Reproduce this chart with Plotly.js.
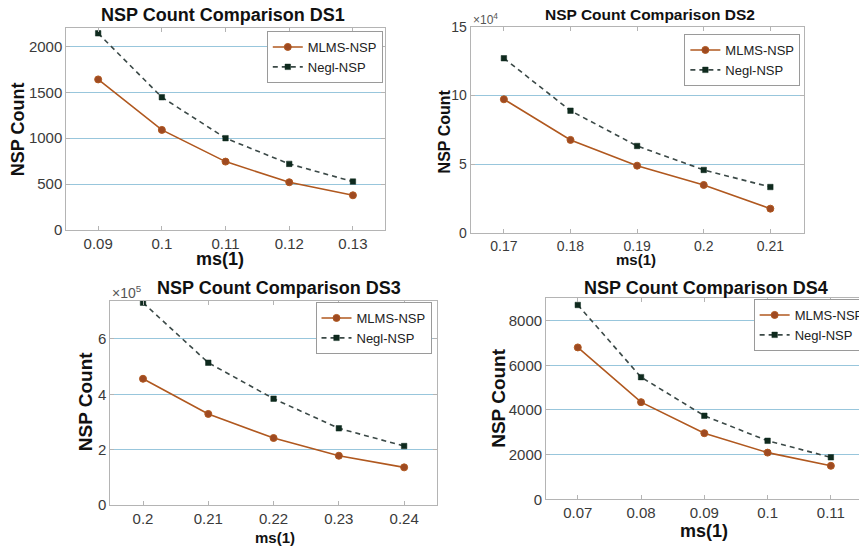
<!DOCTYPE html>
<html>
<head>
<meta charset="utf-8">
<script src="https://cdn.plot.ly/plotly-3.0.1.min.js"></script>
<style>
html,body{margin:0;padding:0;overflow:hidden;background:#fff;}
#chart{width:870px;height:548px;}
</style>
</head>
<body>
<div id="chart"></div>
<script>
// ---- data ----
const seriesNames = ["MLMS-NSP", "Negl-NSP"];
const titles = ["NSP Count Comparison DS1", "NSP Count Comparison DS2", "NSP Count Comparison DS3", "NSP Count Comparison DS4"];
const xLabel = "ms(1)";
const yLabel = "NSP Count";

const ds1X = [0.09, 0.10, 0.11, 0.12, 0.13];
const ds1XText = ["0.09", "0.1", "0.11", "0.12", "0.13"];
const ds1Mlms = [1640, 1090, 745, 520, 378];
const ds1Negl = [2142, 1446, 1000, 720, 527];
const ds1YTicks = [0, 500, 1000, 1500, 2000];
const ds1YText = ["0", "500", "1000", "1500", "2000"];

const ds2X = [0.17, 0.18, 0.19, 0.20, 0.21];
const ds2XText = ["0.17", "0.18", "0.19", "0.2", "0.21"];
const ds2Mlms = [97300, 67800, 49100, 35100, 17900];
const ds2Negl = [127100, 89000, 63400, 46000, 33600];
const ds2YTicks = [0, 50000, 100000, 150000];
const ds2YText = ["0", "5", "10", "15"];

const ds3X = [0.20, 0.21, 0.22, 0.23, 0.24];
const ds3XText = ["0.2", "0.21", "0.22", "0.23", "0.24"];
const ds3Mlms = [456000, 329000, 242000, 178000, 136000];
const ds3Negl = [731000, 514000, 384000, 277000, 213000];
const ds3YTicks = [0, 200000, 400000, 600000];
const ds3YText = ["0", "2", "4", "6"];

const ds4X = [0.07, 0.08, 0.09, 0.10, 0.11];
const ds4XText = ["0.07", "0.08", "0.09", "0.1", "0.11"];
const ds4Mlms = [6800, 4350, 2960, 2090, 1500];
const ds4Negl = [8700, 5470, 3740, 2620, 1880];
const ds4YTicks = [0, 2000, 4000, 6000, 8000];
const ds4YText = ["0", "2000", "4000", "6000", "8000"];

// ---- layout helpers ----
const W = 870, H = 548;
const px = x => x / W;
const py = y => 1 - y / H;
const FONT = "Liberation Sans, Arial, Helvetica, sans-serif";
const brown = "#b0581f", brownM = "#9e4a22";
const dark = "#3b4947", darkM = "#0f2a1e";
const gridC = "#98c6dc", axC = "#b4b4b4", tickC = "#3a3a3a";

const panels = [
  {x: ds1X, xt: ds1XText, m: ds1Mlms, n: ds1Negl, yt: ds1YTicks, ytt: ds1YText,
   xr: [0.085, 0.135], yr: [0, 2200], box: [66.7, 387, 28, 230], tf: 15,
   leg: {x: 385, y: 31, anchor: "right"}},
  {x: ds2X, xt: ds2XText, m: ds2Mlms, n: ds2Negl, yt: ds2YTicks, ytt: ds2YText,
   xr: [0.165, 0.215], yr: [0, 150000], box: [473.3, 808.3, 26.7, 233.3], tf: 14,
   leg: {x: 805, y: 34, anchor: "right"}},
  {x: ds3X, xt: ds3XText, m: ds3Mlms, n: ds3Negl, yt: ds3YTicks, ytt: ds3YText,
   xr: [0.195, 0.245], yr: [0, 737000], box: [111, 439.3, 301, 505], tf: 15,
   leg: {x: 434, y: 302, anchor: "right"}},
  {x: ds4X, xt: ds4XText, m: ds4Mlms, n: ds4Negl, yt: ds4YTicks, ytt: ds4YText,
   xr: [0.065, 0.115], yr: [0, 9000], box: [549.3, 867.5, 298.3, 499.3], tf: 15,
   leg: {x: 758, y: 299, anchor: "left"}}
];

const data = [];
const layout = {
  width: W, height: H,
  margin: {l: 0, r: 0, t: 0, b: 0},
  paper_bgcolor: "#fff", plot_bgcolor: "#fff",
  font: {family: FONT, color: tickC},
  annotations: [], showlegend: true
};

panels.forEach((p, i) => {
  const k = i + 1;
  const xa = k === 1 ? "x" : "x" + k;
  const ya = k === 1 ? "y" : "y" + k;
  const lg = k === 1 ? "legend" : "legend" + k;
  data.push({
    x: p.x, y: p.m, name: seriesNames[0], type: "scatter", mode: "lines+markers",
    xaxis: xa, yaxis: ya, legend: lg,
    line: {color: brown, width: 1.6},
    marker: {symbol: "circle", size: 7, color: brownM, line: {color: brown, width: 1}}
  });
  data.push({
    x: p.x, y: p.n, name: seriesNames[1], type: "scatter", mode: "lines+markers",
    xaxis: xa, yaxis: ya, legend: lg,
    line: {color: dark, width: 1.6, dash: "5px,4px"},
    marker: {symbol: "square", size: 5.5, color: darkM, line: {color: darkM, width: 0.5}}
  });
  const b = p.box;
  const common = {
    showline: true, linecolor: axC, linewidth: 1, mirror: "allticks",
    ticks: "inside", ticklen: 4, tickcolor: axC, zeroline: false,
    tickfont: {family: FONT, size: p.tf, color: tickC}
  };
  layout["xaxis" + (k === 1 ? "" : k)] = Object.assign({}, common, {
    domain: [px(b[0]), px(b[1])], anchor: ya, range: p.xr,
    tickvals: p.x, ticktext: p.xt, showgrid: false
  });
  layout["yaxis" + (k === 1 ? "" : k)] = Object.assign({}, common, {
    domain: [py(b[3]), py(b[2])], anchor: xa, range: p.yr,
    tickvals: p.yt, ticktext: p.ytt, showgrid: true, gridcolor: gridC, gridwidth: 1
  });
  layout[lg] = {
    x: px(p.leg.x), y: py(p.leg.y), xanchor: p.leg.anchor, yanchor: "top",
    xref: "paper", yref: "paper",
    bgcolor: "#fff", bordercolor: "#9a9a9a", borderwidth: 1,
    font: {family: FONT, size: 13, color: "#222"},
    tracegroupgap: 0, itemwidth: 30
  };
});

function ann(text, x, y, size, opts) {
  layout.annotations.push(Object.assign({
    text: text, x: px(x), y: py(y), xref: "paper", yref: "paper",
    showarrow: false, xanchor: "center", yanchor: "middle",
    font: {family: FONT, size: size, color: "#111"}
  }, opts || {}));
}
// titles
ann("<b>" + titles[0] + "</b>", 224.5, 15, 18);
ann("<b>" + titles[1] + "</b>", 653.3, 15, 15.5);
ann("<b>" + titles[2] + "</b>", 280.8, 288.3, 18);
ann("<b>" + titles[3] + "</b>", 710, 288, 18);
// y labels
ann("<b>" + yLabel + "</b>", 18.3, 129, 18, {textangle: -90});
ann("<b>" + yLabel + "</b>", 448, 131, 16, {textangle: -90});
ann("<b>" + yLabel + "</b>", 86, 401.7, 19, {textangle: -90});
ann("<b>" + yLabel + "</b>", 501.7, 398, 19, {textangle: -90});
// x labels
ann("<b>" + xLabel + "</b>", 221.7, 259, 18);
ann("<b>" + xLabel + "</b>", 640, 259, 15);
ann("<b>" + xLabel + "</b>", 276.7, 537.5, 15);
ann("<b>" + xLabel + "</b>", 708, 531, 18);
// exponents
ann("×10<sup>4</sup>", 474, 19, 12, {xanchor: "left", font: {family: FONT, size: 12, color: "#555"}});
ann("×10<sup>5</sup>", 111, 292, 14, {xanchor: "left", font: {family: FONT, size: 14, color: "#555"}});

Plotly.newPlot("chart", data, layout, {displayModeBar: false, staticPlot: true});
</script>
</body>
</html>
